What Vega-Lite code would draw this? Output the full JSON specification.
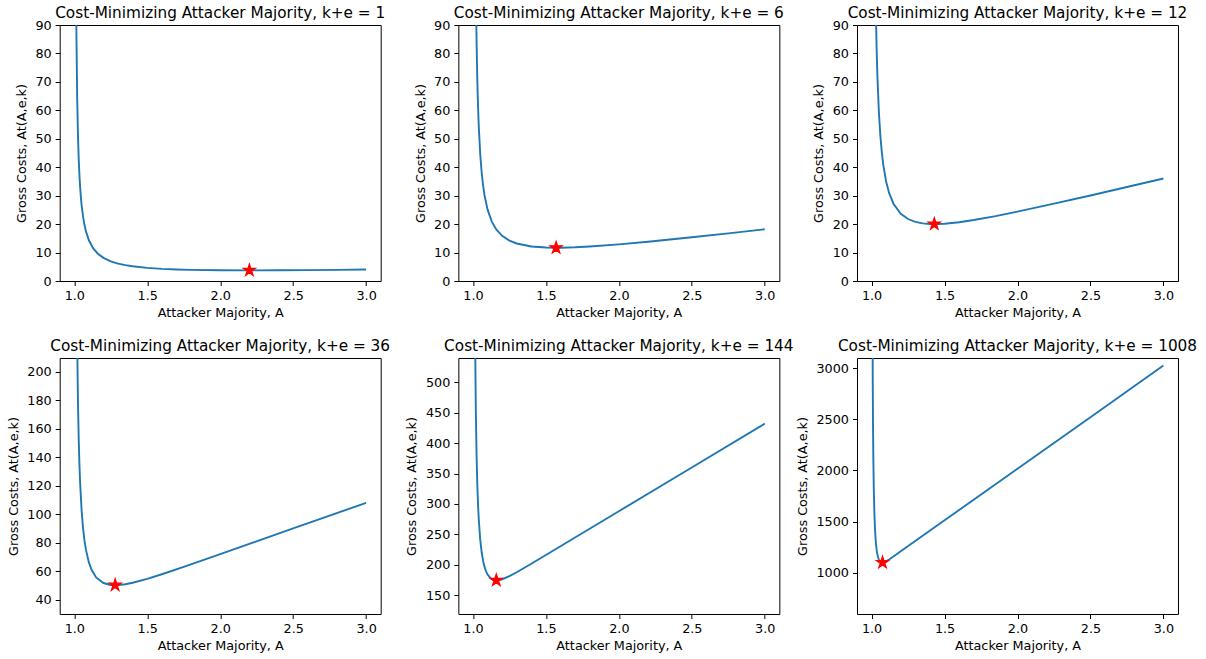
{
  "$schema": "https://vega.github.io/schema/vega-lite/v6.json",
  "background": "white",
  "padding": {"left": 6.7, "top": 5, "right": 5, "bottom": 5},
  "config": {
    "font": "DejaVu Sans",
    "view": {"stroke": "black", "strokeWidth": 1},
    "axis": {"grid": false, "domain": false, "tickColor": "black", "tickSize": 4.5, "tickWidth": 1, "labelFontSize": 12.8, "labelColor": "black", "labelPadding": 4, "titleFontSize": 12.8, "titleFontWeight": "normal", "titleColor": "black", "labelFlush": false, "labelOverlap": false},
    "axisY": {"titlePadding": 6.5},
    "axisX": {"titlePadding": 4},
    "title": {"fontSize": 15.3, "fontWeight": "normal", "color": "black", "frame": "group", "anchor": "middle", "offset": 3.7, "baseline": "alphabetic"}
  },
  "datasets": {
    "curves": [
      {"ke":1,"A":1.012,"cost":105.93},{"ke":1,"A":1.015,"cost":85.10},{"ke":1,"A":1.02,"cost":64.26},{"ke":1,"A":1.025,"cost":51.77},{"ke":1,"A":1.03,"cost":43.44},{"ke":1,"A":1.035,"cost":37.49},{"ke":1,"A":1.04,"cost":33.03},{"ke":1,"A":1.045,"cost":29.56},{"ke":1,"A":1.05,"cost":26.78},{"ke":1,"A":1.06,"cost":22.63},{"ke":1,"A":1.07,"cost":19.66},{"ke":1,"A":1.08,"cost":17.43},{"ke":1,"A":1.1,"cost":14.32},{"ke":1,"A":1.13,"cost":11.46},{"ke":1,"A":1.16,"cost":9.68},{"ke":1,"A":1.2,"cost":8.14},{"ke":1,"A":1.25,"cost":6.93},{"ke":1,"A":1.3,"cost":6.13},{"ke":1,"A":1.35,"cost":5.576},{"ke":1,"A":1.4,"cost":5.17},{"ke":1,"A":1.5,"cost":4.62},{"ke":1,"A":1.6,"cost":4.28},{"ke":1,"A":1.7,"cost":4.065},{"ke":1,"A":1.8,"cost":3.92},{"ke":1,"A":2.0,"cost":3.78},{"ke":1,"A":2.2,"cost":3.74},{"ke":1,"A":2.4,"cost":3.764},{"ke":1,"A":2.6,"cost":3.829},{"ke":1,"A":2.8,"cost":3.92},{"ke":1,"A":3.0,"cost":4.031},
      {"ke":6,"A":1.02,"cost":103.38},{"ke":6,"A":1.025,"cost":83.75},{"ke":6,"A":1.03,"cost":70.67},{"ke":6,"A":1.035,"cost":61.33},{"ke":6,"A":1.04,"cost":54.33},{"ke":6,"A":1.05,"cost":44.56},{"ke":6,"A":1.06,"cost":38.06},{"ke":6,"A":1.07,"cost":33.43},{"ke":6,"A":1.08,"cost":29.97},{"ke":6,"A":1.1,"cost":25.16},{"ke":6,"A":1.13,"cost":20.79},{"ke":6,"A":1.16,"cost":18.12},{"ke":6,"A":1.2,"cost":15.89},{"ke":6,"A":1.25,"cost":14.21},{"ke":6,"A":1.3,"cost":13.19},{"ke":6,"A":1.4,"cost":12.14},{"ke":6,"A":1.5,"cost":11.76},{"ke":6,"A":1.56,"cost":11.703},{"ke":6,"A":1.6,"cost":11.71},{"ke":6,"A":1.7,"cost":11.86},{"ke":6,"A":1.8,"cost":12.13},{"ke":6,"A":2.0,"cost":12.89},{"ke":6,"A":2.2,"cost":13.82},{"ke":6,"A":2.5,"cost":15.38},{"ke":6,"A":2.75,"cost":16.76},{"ke":6,"A":3.0,"cost":18.19},
      {"ke":12,"A":1.025,"cost":109.42},{"ke":12,"A":1.03,"cost":92.71},{"ke":12,"A":1.035,"cost":80.80},{"ke":12,"A":1.04,"cost":71.88},{"ke":12,"A":1.05,"cost":59.43},{"ke":12,"A":1.06,"cost":51.17},{"ke":12,"A":1.07,"cost":45.31},{"ke":12,"A":1.08,"cost":40.94},{"ke":12,"A":1.1,"cost":34.91},{"ke":12,"A":1.12,"cost":30.98},{"ke":12,"A":1.15,"cost":27.17},{"ke":12,"A":1.2,"cost":23.64},{"ke":12,"A":1.25,"cost":21.79},{"ke":12,"A":1.3,"cost":20.79},{"ke":12,"A":1.35,"cost":20.27},{"ke":12,"A":1.4,"cost":20.05},{"ke":12,"A":1.43,"cost":20.02},{"ke":12,"A":1.45,"cost":20.03},{"ke":12,"A":1.5,"cost":20.15},{"ke":12,"A":1.6,"cost":20.67},{"ke":12,"A":1.7,"cost":21.43},{"ke":12,"A":1.85,"cost":22.81},{"ke":12,"A":2.0,"cost":24.39},{"ke":12,"A":2.25,"cost":27.18},{"ke":12,"A":2.5,"cost":30.07},{"ke":12,"A":2.75,"cost":33.03},{"ke":12,"A":3.0,"cost":36.02},
      {"ke":36,"A":1.018,"cost":240.7},{"ke":36,"A":1.02,"cost":219.0},{"ke":36,"A":1.025,"cost":180.04},{"ke":36,"A":1.03,"cost":154.14},{"ke":36,"A":1.035,"cost":135.71},{"ke":36,"A":1.04,"cost":121.96},{"ke":36,"A":1.05,"cost":102.85},{"ke":36,"A":1.06,"cost":90.29},{"ke":36,"A":1.07,"cost":81.46},{"ke":36,"A":1.08,"cost":74.96},{"ke":36,"A":1.1,"cost":66.18},{"ke":36,"A":1.12,"cost":60.68},{"ke":36,"A":1.15,"cost":55.69},{"ke":36,"A":1.2,"cost":51.74},{"ke":36,"A":1.25,"cost":50.38},{"ke":36,"A":1.28,"cost":50.22},{"ke":36,"A":1.3,"cost":50.29},{"ke":36,"A":1.35,"cost":50.9},{"ke":36,"A":1.4,"cost":51.93},{"ke":36,"A":1.5,"cost":54.68},{"ke":36,"A":1.6,"cost":57.89},{"ke":36,"A":1.75,"cost":63.06},{"ke":36,"A":2.0,"cost":72.01},{"ke":36,"A":2.5,"cost":90.0},{"ke":36,"A":3.0,"cost":108.0},
      {"ke":144,"A":1.012,"cost":690.9},{"ke":144,"A":1.015,"cost":570.32},{"ke":144,"A":1.02,"cost":450.37},{"ke":144,"A":1.025,"cost":379.04},{"ke":144,"A":1.03,"cost":332.02},{"ke":144,"A":1.035,"cost":298.9},{"ke":144,"A":1.04,"cost":274.46},{"ke":144,"A":1.05,"cost":241.22},{"ke":144,"A":1.06,"cost":220.11},{"ke":144,"A":1.07,"cost":205.94},{"ke":144,"A":1.08,"cost":196.09},{"ke":144,"A":1.09,"cost":189.1},{"ke":144,"A":1.1,"cost":184.1},{"ke":144,"A":1.12,"cost":178.04},{"ke":144,"A":1.14,"cost":175.27},{"ke":144,"A":1.16,"cost":174.47},{"ke":144,"A":1.18,"cost":174.91},{"ke":144,"A":1.2,"cost":176.15},{"ke":144,"A":1.25,"cost":181.23},{"ke":144,"A":1.3,"cost":187.63},{"ke":144,"A":1.4,"cost":201.65},{"ke":144,"A":1.5,"cost":216.0},{"ke":144,"A":2.0,"cost":288.0},{"ke":144,"A":2.5,"cost":360.0},{"ke":144,"A":3.0,"cost":432.0},
      {"ke":1008,"A":1.006,"cost":3622.9},{"ke":1008,"A":1.008,"cost":2865.4},{"ke":1008,"A":1.01,"cost":2414.9},{"ke":1008,"A":1.012,"cost":2117.9},{"ke":1008,"A":1.015,"cost":1825.85},{"ke":1008,"A":1.02,"cost":1543.6},{"ke":1008,"A":1.025,"cost":1383.8},{"ke":1008,"A":1.03,"cost":1284.87},{"ke":1008,"A":1.035,"cost":1220.45},{"ke":1008,"A":1.04,"cost":1177.33},{"ke":1008,"A":1.045,"cost":1148.11},{"ke":1008,"A":1.05,"cost":1128.32},{"ke":1008,"A":1.055,"cost":1115.16},{"ke":1008,"A":1.06,"cost":1106.8},{"ke":1008,"A":1.065,"cost":1101.87},{"ke":1008,"A":1.07,"cost":1099.53},{"ke":1008,"A":1.075,"cost":1099.05},{"ke":1008,"A":1.08,"cost":1099.99},{"ke":1008,"A":1.09,"cost":1104.78},{"ke":1008,"A":1.1,"cost":1111.98},{"ke":1008,"A":1.12,"cost":1129.78},{"ke":1008,"A":1.15,"cost":1159.25},{"ke":1008,"A":1.2,"cost":1209.6},{"ke":1008,"A":1.5,"cost":1512.0},{"ke":1008,"A":2.0,"cost":2016.0},{"ke":1008,"A":2.5,"cost":2520.0},{"ke":1008,"A":3.0,"cost":3024.0}
    ],
    "minima": [
      {"ke":1,"A":2.2,"cost":3.74},
      {"ke":6,"A":1.57,"cost":11.70},
      {"ke":12,"A":1.43,"cost":20.02},
      {"ke":36,"A":1.28,"cost":50.22},
      {"ke":144,"A":1.16,"cost":174.47},
      {"ke":1008,"A":1.075,"cost":1099.05}
    ]
  },
  "columns": 3,
  "spacing": {"row": 77, "column": 77.65},
  "bounds": "flush",
  "concat": [
    {
      "width": 321, "height": 256,
      "title": {"text": "Cost-Minimizing Attacker Majority, k+e = 1", "offset": -2.7},
      "layer": [
        {"data": {"name": "curves"}, "transform": [{"filter": "datum.ke == 1"}],
         "mark": {"type": "line", "color": "#1f77b4", "strokeWidth": 1.9, "clip": true},
         "encoding": {
           "x": {"field": "A", "type": "quantitative", "title": "Attacker Majority, A", "scale": {"domain": [0.9, 3.1], "nice": false, "zero": false}, "axis": {"values": [1, 1.5, 2, 2.5, 3], "format": ".1f", "tickCount": 20}},
           "y": {"field": "cost", "type": "quantitative", "title": "Gross Costs, At(A,e,k)", "scale": {"domain": [0, 90], "nice": false, "zero": false}, "axis": {"values": [0,10,20,30,40,50,60,70,80,90], "format": "d", "tickCount": 20, "labelOverlap": false}}}},
        {"data": {"name": "minima"}, "transform": [{"filter": "datum.ke == 1"}],
         "mark": {"type": "point", "shape": "M0,-1L0.2245,-0.309L0.9511,-0.309L0.3633,0.118L0.5878,0.809L0,0.382L-0.5878,0.809L-0.3633,0.118L-0.9511,-0.309L-0.2245,-0.309Z", "filled": true, "fill": "red", "stroke": "red", "strokeWidth": 1.2, "size": 164, "opacity": 1},
         "encoding": {"x": {"field": "A", "type": "quantitative"}, "y": {"field": "cost", "type": "quantitative"}}}
      ]
    },
    {
      "width": 321, "height": 256,
      "title": {"text": "Cost-Minimizing Attacker Majority, k+e = 6", "offset": -2.7},
      "layer": [
        {"data": {"name": "curves"}, "transform": [{"filter": "datum.ke == 6"}],
         "mark": {"type": "line", "color": "#1f77b4", "strokeWidth": 1.9, "clip": true},
         "encoding": {
           "x": {"field": "A", "type": "quantitative", "title": "Attacker Majority, A", "scale": {"domain": [0.9, 3.1], "nice": false, "zero": false}, "axis": {"values": [1, 1.5, 2, 2.5, 3], "format": ".1f", "tickCount": 20}},
           "y": {"field": "cost", "type": "quantitative", "title": "Gross Costs, At(A,e,k)", "scale": {"domain": [0, 90], "nice": false, "zero": false}, "axis": {"values": [0,10,20,30,40,50,60,70,80,90], "format": "d", "tickCount": 20, "labelOverlap": false}}}},
        {"data": {"name": "minima"}, "transform": [{"filter": "datum.ke == 6"}],
         "mark": {"type": "point", "shape": "M0,-1L0.2245,-0.309L0.9511,-0.309L0.3633,0.118L0.5878,0.809L0,0.382L-0.5878,0.809L-0.3633,0.118L-0.9511,-0.309L-0.2245,-0.309Z", "filled": true, "fill": "red", "stroke": "red", "strokeWidth": 1.2, "size": 164, "opacity": 1},
         "encoding": {"x": {"field": "A", "type": "quantitative"}, "y": {"field": "cost", "type": "quantitative"}}}
      ]
    },
    {
      "width": 321, "height": 256,
      "title": {"text": "Cost-Minimizing Attacker Majority, k+e = 12", "offset": -2.7},
      "layer": [
        {"data": {"name": "curves"}, "transform": [{"filter": "datum.ke == 12"}],
         "mark": {"type": "line", "color": "#1f77b4", "strokeWidth": 1.9, "clip": true},
         "encoding": {
           "x": {"field": "A", "type": "quantitative", "title": "Attacker Majority, A", "scale": {"domain": [0.9, 3.1], "nice": false, "zero": false}, "axis": {"values": [1, 1.5, 2, 2.5, 3], "format": ".1f", "tickCount": 20}},
           "y": {"field": "cost", "type": "quantitative", "title": "Gross Costs, At(A,e,k)", "scale": {"domain": [0, 90], "nice": false, "zero": false}, "axis": {"values": [0,10,20,30,40,50,60,70,80,90], "format": "d", "tickCount": 20, "labelOverlap": false}}}},
        {"data": {"name": "minima"}, "transform": [{"filter": "datum.ke == 12"}],
         "mark": {"type": "point", "shape": "M0,-1L0.2245,-0.309L0.9511,-0.309L0.3633,0.118L0.5878,0.809L0,0.382L-0.5878,0.809L-0.3633,0.118L-0.9511,-0.309L-0.2245,-0.309Z", "filled": true, "fill": "red", "stroke": "red", "strokeWidth": 1.2, "size": 164, "opacity": 1},
         "encoding": {"x": {"field": "A", "type": "quantitative"}, "y": {"field": "cost", "type": "quantitative"}}}
      ]
    },
    {
      "width": 321, "height": 256,
      "title": {"text": "Cost-Minimizing Attacker Majority, k+e = 36"},
      "layer": [
        {"data": {"name": "curves"}, "transform": [{"filter": "datum.ke == 36"}],
         "mark": {"type": "line", "color": "#1f77b4", "strokeWidth": 1.9, "clip": true},
         "encoding": {
           "x": {"field": "A", "type": "quantitative", "title": "Attacker Majority, A", "scale": {"domain": [0.9, 3.1], "nice": false, "zero": false}, "axis": {"values": [1, 1.5, 2, 2.5, 3], "format": ".1f", "tickCount": 20}},
           "y": {"field": "cost", "type": "quantitative", "title": "Gross Costs, At(A,e,k)", "scale": {"domain": [30, 209.6], "nice": false, "zero": false}, "axis": {"values": [40,60,80,100,120,140,160,180,200], "format": "d", "tickCount": 20, "labelOverlap": false}}}},
        {"data": {"name": "minima"}, "transform": [{"filter": "datum.ke == 36"}],
         "mark": {"type": "point", "shape": "M0,-1L0.2245,-0.309L0.9511,-0.309L0.3633,0.118L0.5878,0.809L0,0.382L-0.5878,0.809L-0.3633,0.118L-0.9511,-0.309L-0.2245,-0.309Z", "filled": true, "fill": "red", "stroke": "red", "strokeWidth": 1.2, "size": 164, "opacity": 1},
         "encoding": {"x": {"field": "A", "type": "quantitative"}, "y": {"field": "cost", "type": "quantitative"}}}
      ]
    },
    {
      "width": 321, "height": 256,
      "title": {"text": "Cost-Minimizing Attacker Majority, k+e = 144"},
      "layer": [
        {"data": {"name": "curves"}, "transform": [{"filter": "datum.ke == 144"}],
         "mark": {"type": "line", "color": "#1f77b4", "strokeWidth": 1.9, "clip": true},
         "encoding": {
           "x": {"field": "A", "type": "quantitative", "title": "Attacker Majority, A", "scale": {"domain": [0.9, 3.1], "nice": false, "zero": false}, "axis": {"values": [1, 1.5, 2, 2.5, 3], "format": ".1f", "tickCount": 20}},
           "y": {"field": "cost", "type": "quantitative", "title": "Gross Costs, At(A,e,k)", "scale": {"domain": [119, 540], "nice": false, "zero": false}, "axis": {"values": [150,200,250,300,350,400,450,500], "format": "d", "tickCount": 20, "labelOverlap": false}}}},
        {"data": {"name": "minima"}, "transform": [{"filter": "datum.ke == 144"}],
         "mark": {"type": "point", "shape": "M0,-1L0.2245,-0.309L0.9511,-0.309L0.3633,0.118L0.5878,0.809L0,0.382L-0.5878,0.809L-0.3633,0.118L-0.9511,-0.309L-0.2245,-0.309Z", "filled": true, "fill": "red", "stroke": "red", "strokeWidth": 1.2, "size": 164, "opacity": 1},
         "encoding": {"x": {"field": "A", "type": "quantitative"}, "y": {"field": "cost", "type": "quantitative"}}}
      ]
    },
    {
      "width": 321, "height": 256,
      "title": {"text": "Cost-Minimizing Attacker Majority, k+e = 1008"},
      "layer": [
        {"data": {"name": "curves"}, "transform": [{"filter": "datum.ke == 1008"}],
         "mark": {"type": "line", "color": "#1f77b4", "strokeWidth": 1.9, "clip": true},
         "encoding": {
           "x": {"field": "A", "type": "quantitative", "title": "Attacker Majority, A", "scale": {"domain": [0.9, 3.1], "nice": false, "zero": false}, "axis": {"values": [1, 1.5, 2, 2.5, 3], "format": ".1f", "tickCount": 20}},
           "y": {"field": "cost", "type": "quantitative", "title": "Gross Costs, At(A,e,k)", "scale": {"domain": [597, 3098], "nice": false, "zero": false}, "axis": {"values": [1000,1500,2000,2500,3000], "format": "d", "tickCount": 20, "labelOverlap": false}}}},
        {"data": {"name": "minima"}, "transform": [{"filter": "datum.ke == 1008"}],
         "mark": {"type": "point", "shape": "M0,-1L0.2245,-0.309L0.9511,-0.309L0.3633,0.118L0.5878,0.809L0,0.382L-0.5878,0.809L-0.3633,0.118L-0.9511,-0.309L-0.2245,-0.309Z", "filled": true, "fill": "red", "stroke": "red", "strokeWidth": 1.2, "size": 164, "opacity": 1},
         "encoding": {"x": {"field": "A", "type": "quantitative"}, "y": {"field": "cost", "type": "quantitative"}}}
      ]
    }
  ]
}
